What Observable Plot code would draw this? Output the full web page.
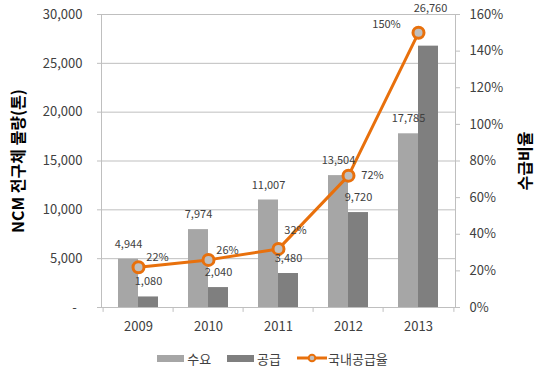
<!DOCTYPE html>
<html>
<head>
<meta charset="utf-8">
<script src="https://cdn.jsdelivr.net/npm/d3@7"></script>
<script src="https://cdn.jsdelivr.net/npm/@observablehq/plot@0.6"></script>
<style>
  body { margin: 0; background: #fff; font-family: "Noto Sans CJK KR", "Noto Sans", sans-serif; }
  #legend { width: 545px; height: 18px; padding-top: 14px; display: flex; justify-content: center; align-items: center; font-size: 13px; color: #404040; }
  #legend .item { display: flex; align-items: center; margin: 0 8px; }
  #legend .sw { width: 27px; height: 7px; margin-right: 3px; }
</style>
</head>
<body>
<div id="chart"></div>
<div id="legend"></div>
<script>
const years = ["2009", "2010", "2011", "2012", "2013"];
const demand = [4944, 7974, 11007, 13504, 17785];
const supply = [1080, 2040, 3480, 9720, 26760];
const rate = [0.22, 0.26, 0.32, 0.72, 1.50];
const leftTicks = [0, 5000, 10000, 15000, 20000, 25000, 30000];
const rightTicks = [0, 0.2, 0.4, 0.6, 0.8, 1.0, 1.2, 1.4, 1.6];
const seriesNames = ["수요", "공급", "국내공급율"];

const cDemand = "#A6A6A6", cSupply = "#7F7F7F", cOrange = "#E8700C", cGrid = "#BFBFBF";
const k = 30000 / 1.6;
const table = years.map((y, i) => ({year: y, demand: demand[i], supply: supply[i], rate: rate[i], i}));
const fmt = d3.format(",");
const pct = r => Math.round(r * 100) + "%";
const lab = {fontSize: 11, fill: "#404040"};

const chart = Plot.plot({
  width: 550, height: 335,
  marginLeft: 101, marginRight: 95, marginTop: 14, marginBottom: 28,
  style: {fontFamily: '"Noto Sans CJK KR", "Noto Sans", sans-serif', color: "#404040", background: "#fff", overflow: "visible"},
  x: {type: "band", domain: years, paddingInner: 0.435, paddingOuter: 0.2175},
  y: {domain: [0, 30000]},
  marks: [
    Plot.gridY(leftTicks, {stroke: cGrid, strokeOpacity: 1}),
    Plot.frame({stroke: cGrid}),
    Plot.ruleX(years, {x: d => d, dx: -35.4, y1: 0, y2: -500, stroke: cGrid}),
    Plot.ruleX([years[years.length - 1]], {x: d => d, dx: 35.4, y1: 0, y2: -500, stroke: cGrid}),
    Plot.barY(table, {x: "year", y: "demand", fill: cDemand, insetRight: 20}),
    Plot.barY(table, {x: "year", y: "supply", fill: cSupply, insetLeft: 20}),
    Plot.line(table, {x: "year", y: d => d.rate * k, stroke: cOrange, strokeWidth: 3}),
    Plot.dot(table, {x: "year", y: d => d.rate * k, r: 5.5, fill: "#BFBFBF", stroke: cOrange, strokeWidth: 3}),
    Plot.text(table, {x: "year", y: "demand", text: d => fmt(d.demand), dx: -10, dy: -15, ...lab}),
    Plot.text(table.filter(d => d.i < 4), {x: "year", y: "supply", text: d => fmt(d.supply), dx: 10, dy: -15, ...lab}),
    Plot.text(table.filter(d => d.i === 4), {x: "year", y: () => 30000, text: d => fmt(d.supply), dx: 12, dy: -6, ...lab}),
    Plot.text(table.filter(d => d.i < 2), {x: "year", y: d => d.rate * k, text: d => pct(d.rate), dx: 19, dy: -9.5, ...lab}),
    Plot.text(table.filter(d => d.i === 2), {x: "year", y: d => d.rate * k, text: d => pct(d.rate), dx: 17, dy: -18, ...lab}),
    Plot.text(table.filter(d => d.i === 3), {x: "year", y: d => d.rate * k, text: d => pct(d.rate), dx: 24, dy: 0, ...lab}),
    Plot.text(table.filter(d => d.i === 4), {x: "year", y: d => d.rate * k, text: d => pct(d.rate), dx: -32, dy: -8, ...lab}),
    Plot.axisY({anchor: "left", ticks: leftTicks, tickFormat: d => d === 0 ? "-  " : fmt(d), tickSize: 4, tickPadding: 15, fontSize: 13, stroke: cGrid,
      label: "NCM 전구체 물량(톤)", labelAnchor: "center", labelOffset: 89, labelArrow: "none"}),
    Plot.axisY({anchor: "right", ticks: rightTicks.map(t => t * k), tickFormat: d => Math.round(d / k * 100) + "%", tickSize: 4, tickPadding: 10, fontSize: 13, stroke: cGrid,
      label: "수급비율", labelAnchor: "center", labelOffset: 75, labelArrow: "none"}),
    Plot.axisX({tickSize: 0, tickPadding: 14, fontSize: 13, label: null})
  ]
});
chart.querySelectorAll("g[aria-label='y-axis label'] text").forEach(t => { t.style.fontSize = "16px"; t.style.fontWeight = "bold"; t.style.fill = "#000"; });
document.getElementById("chart").appendChild(chart);

const legend = document.getElementById("legend");
legend.innerHTML =
  `<div class="item"><div class="sw" style="background:${cDemand}"></div>${seriesNames[0]}</div>` +
  `<div class="item"><div class="sw" style="background:${cSupply}"></div>${seriesNames[1]}</div>` +
  `<div class="item"><svg width="30" height="10" style="margin-right:1px"><line x1="0" y1="5" x2="30" y2="5" stroke="${cOrange}" stroke-width="3"/><circle cx="15" cy="5" r="3.3" fill="#BFBFBF" stroke="${cOrange}" stroke-width="2"/></svg>${seriesNames[2]}</div>`;
</script>
</body>
</html>
